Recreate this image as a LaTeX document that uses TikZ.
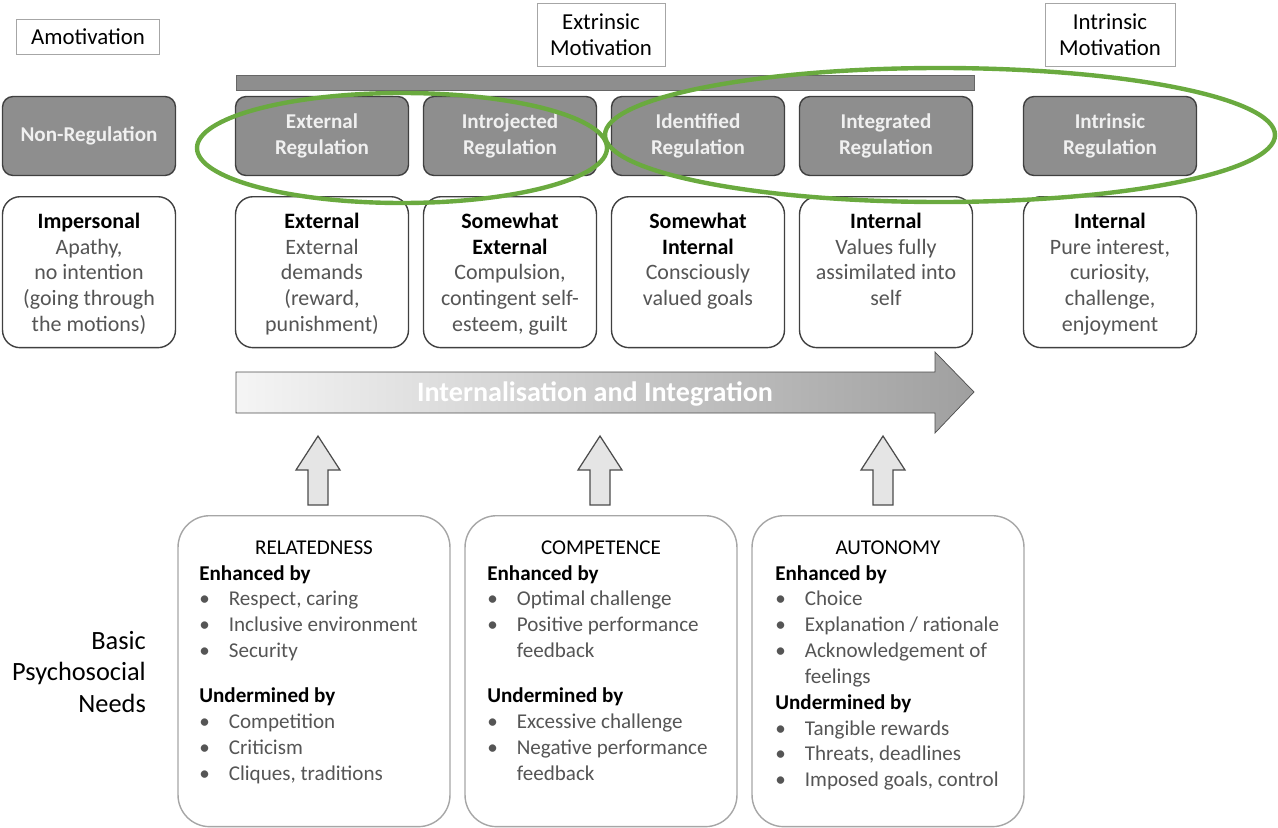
\documentclass[tikz,border=0pt]{standalone}
\usepackage{fontspec}
\setmainfont{Carlito}
\usetikzlibrary{positioning,calc}
\definecolor{regfill}{HTML}{8E8E8E}
\definecolor{txtgray}{HTML}{555555}
\definecolor{ovalgreen}{HTML}{6AAA3F}
\newcommand{\hd}[1]{\textbf{\color{black}#1}}
\newcommand{\bl}{\makebox[1.4em][l]{\textbullet}}
\newcommand{\cn}{\hspace*{1.4em}}
\tikzset{
  lbl/.style={draw=gray!70, fill=white, font=\fontsize{13}{15}\selectfont, align=center, inner sep=2pt},
  reg/.style={draw=black!75, fill=regfill, rounded corners=6pt, minimum width=3.46cm, minimum height=1.58cm, align=center, text=white!94!black, font=\bfseries\fontsize{12}{14.5}\selectfont, line width=0.8pt},
  desc/.style={draw=black!75, fill=white, rounded corners=10pt, minimum width=3.46cm, minimum height=3.02cm, align=center, text=txtgray, font=\fontsize{12.5}{14.6}\selectfont, anchor=north, line width=0.8pt, text depth=0pt},
  need/.style={draw=gray!70, rounded corners=18pt, minimum width=5.44cm, minimum height=6.22cm, anchor=north, line width=0.8pt},
  needtxt/.style={align=left, text=txtgray, font=\fontsize{12}{14.7}\selectfont, anchor=north west, inner sep=0pt},
  uparrow/.style={draw=black!70, fill=gray!20, line width=0.7pt}
}
\begin{document}
\begin{tikzpicture}[x=0.02cm,y=-0.02cm]
  \useasboundingbox (0,0) rectangle (1278,828);
  %top labels
  \node[lbl, minimum width=2.86cm, minimum height=0.7cm] (amo) at (88,37) {Amotivation};
  \node[lbl, minimum width=2.56cm, minimum height=1.26cm] (ext) at (601,35) {Extrinsic\\Motivation};
  \node[lbl, minimum width=2.6cm, minimum height=1.26cm] (int) at (1110,35) {Intrinsic\\Motivation};
  \fill[regfill] (236,75) rectangle (974,90);
  \draw[black!60] (236,75) rectangle (974,90);
  %regulation boxes
  \node[reg] (nonreg) at (89,136) {Non-Regulation};
  \node[reg] (extreg) at (322,136) {External\\Regulation};
  \node[reg] (intro) at (510,136) {Introjected\\Regulation};
  \node[reg] (ident) at (698,136) {Identified\\Regulation};
  \node[reg] (integ) at (886,136) {Integrated\\Regulation};
  \node[reg] (intrreg) at (1110,136) {Intrinsic\\Regulation};
  %descriptions
  \node[desc] (d1) at (89,196) {\hd{Impersonal}\\Apathy,\\no intention\\(going through\\the motions)};
  \node[desc] (d2) at (322,196) {\hd{External}\\External\\demands\\(reward,\\punishment)};
  \node[desc] (d3) at (510,196) {\hd{Somewhat}\\\hd{External}\\Compulsion,\\contingent self-\\esteem, guilt};
  \node[desc] (d4) at (698,196) {\hd{Somewhat}\\\hd{Internal}\\Consciously\\valued goals\\\strut};
  \node[desc] (d5) at (886,196) {\hd{Internal}\\Values fully\\assimilated into\\self\\\strut};
  \node[desc] (d6) at (1110,196) {\hd{Internal}\\Pure interest,\\curiosity,\\challenge,\\enjoyment};
  %green ovals
  \draw[ovalgreen, line width=2.5pt] (402,148) ellipse [x radius=205, y radius=55];
  \draw[ovalgreen, line width=2.5pt] (940,135) ellipse [x radius=335, y radius=67];
  %big arrow
  \shade[left color=gray!8, right color=gray!75, draw=black!70]
    (236,372) -- (935,372) -- (935,352) -- (974,392) -- (935,433) -- (935,413) -- (236,413) -- cycle;
  \node[text=white, font=\bfseries\fontsize{16}{18}\selectfont] (internal) at (595,394) {Internalisation and Integration};
  %need boxes
  \node[need] (rel) at (314,515) {};
  \node[need] (comp) at (601,515) {};
  \node[need] (aut) at (888,515) {};
  \foreach \ax in {318,600,883}
    \draw[uparrow] (\ax-10,505) -- (\ax-10,470) -- (\ax-22,470) -- (\ax,436) -- (\ax+22,470) -- (\ax+10,470) -- (\ax+10,505) -- cycle;
  \node[font=\fontsize{12}{14}\selectfont] at (314,548) {RELATEDNESS};
  \node[font=\fontsize{12}{14}\selectfont] at (601,548) {COMPETENCE};
  \node[font=\fontsize{12}{14}\selectfont] at (888,548) {AUTONOMY};
  \node[needtxt] at (199,565) {\hd{Enhanced by}\\\bl Respect, caring\\\bl Inclusive environment\\\bl Security\\[11pt]\hd{Undermined by}\\\bl Competition\\\bl Criticism\\\bl Cliques, traditions};
  \node[needtxt] at (487,565) {\hd{Enhanced by}\\\bl Optimal challenge\\\bl Positive performance\\\cn feedback\\[11pt]\hd{Undermined by}\\\bl Excessive challenge\\\bl Negative performance\\\cn feedback};
  \node[needtxt] at (775,565) {\hd{Enhanced by}\\\bl Choice\\\bl Explanation / rationale\\\bl Acknowledgement of\\\cn feelings\\\hd{Undermined by}\\\bl Tangible rewards\\\bl Threats, deadlines\\\bl Imposed goals, control};
  \node[align=right, anchor=east, font=\fontsize{15}{18}\selectfont] (basic) at (152,672) {Basic\\Psychosocial\\Needs};
\end{tikzpicture}
\end{document}
